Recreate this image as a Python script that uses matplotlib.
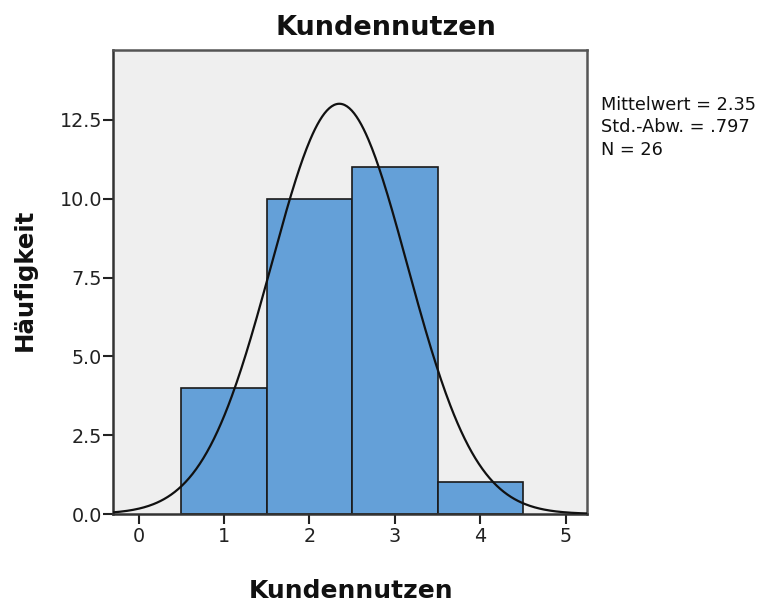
import numpy as np
import matplotlib
matplotlib.use("Agg")
import matplotlib.pyplot as plt

plt.rcParams['font.family'] = ['DejaVu Sans']

# Histogram data
bin_centers = [1, 2, 3, 4]
counts = [4, 10, 11, 1]
bin_width = 1.0
mean = 2.35
std = 0.797
n = 26
x_ticks = [0, 1, 2, 3, 4, 5]
y_ticks = [0.0, 2.5, 5.0, 7.5, 10.0, 12.5]
title = 'Kundennutzen'
x_label = 'Kundennutzen'
y_label = 'Häufigkeit'

W, H = 773, 607
fig = plt.figure(figsize=(W / 100, H / 100), dpi=100)
ax = fig.add_axes([113 / W, 1 - 514 / H, (587 - 113) / W, (514 - 50) / H])
ax.set_facecolor('#EFEFEF')

ax.bar(bin_centers, counts, width=bin_width, color='#64A0D8',
       edgecolor='#1a1a1a', linewidth=1.2, zorder=2)

xmin, xmax = -0.3, 5.25
xs = np.linspace(xmin, xmax, 400)
ys = n * bin_width / (std * np.sqrt(2 * np.pi)) * np.exp(-0.5 * ((xs - mean) / std) ** 2)
ax.plot(xs, ys, color='#111111', linewidth=1.6, zorder=3)

ax.set_xlim(xmin, xmax)
ax.set_ylim(0, 14.72)
ax.set_xticks(x_ticks)
ax.set_yticks(y_ticks)
ax.set_yticklabels([f"{v:.1f}" for v in y_ticks])
ax.tick_params(axis='both', direction='out', length=7, width=1.5,
               labelsize=13.8, colors='#222222')
ax.tick_params(axis='y', pad=1)
ax.tick_params(axis='x', pad=2)

for side in ['left', 'bottom']:
    ax.spines[side].set_color('#333333')
    ax.spines[side].set_linewidth(1.8)
for side in ['top', 'right']:
    ax.spines[side].set_color('#555555')
    ax.spines[side].set_linewidth(1.8)

# Title and axis labels
fig.text(386 / W, 1 - 35 / H, title, fontsize=19.5, fontweight='bold',
         ha='center', va='baseline', color='#111111')
fig.text(351 / W, 1 - 598 / H, x_label, fontsize=18, fontweight='bold',
         ha='center', va='baseline', color='#111111')
fig.text(25 / W, 1 - 280 / H, y_label, fontsize=17.6, fontweight='bold',
         rotation=90, ha='center', va='center', color='#111111')

# Summary statistics
stats_lines = [f"Mittelwert = {mean:.2f}",
               f"Std.-Abw. = {str(std).lstrip('0')}",
               f"N = {n}"]
for line, base in zip(stats_lines, [110, 132.5, 155]):
    fig.text(601 / W, 1 - base / H, line, fontsize=12.8,
             ha='left', va='baseline', color='#111111')

fig.savefig('out.png', dpi=100, facecolor='white')
